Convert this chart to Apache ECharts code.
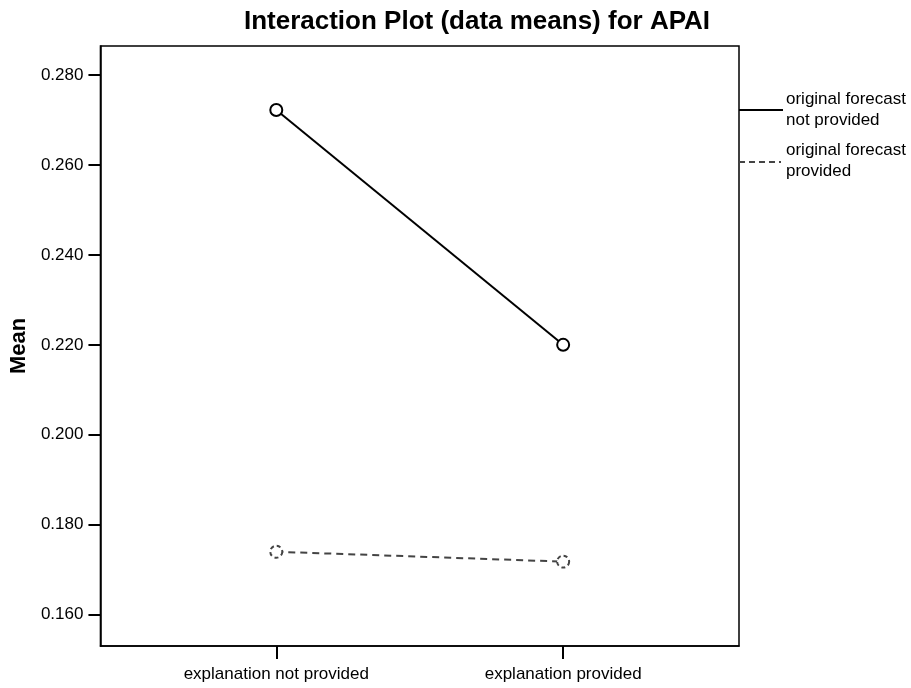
<!DOCTYPE html>
<html>
<head>
<meta charset="utf-8">
<script src="https://cdn.jsdelivr.net/npm/echarts@6/dist/echarts.min.js"></script>
<style>html,body{margin:0;padding:0;background:#fff;}#c{width:911px;height:688px;}</style>
</head>
<body>
<div id="c"></div>
<script>
const categories = ['explanation not provided', 'explanation provided'];
const categoryPositions = [1, 2];
const seriesNames = ['original forecast\nnot provided', 'original forecast\nprovided'];
const notProvidedMeans = [0.2722, 0.2200];
const providedMeans = [0.1740, 0.1718];
const yTicks = [0.160, 0.180, 0.200, 0.220, 0.240, 0.260, 0.280];

const chart = echarts.init(document.getElementById('c'), null, {renderer: 'canvas'});
const FONT = '"Liberation Sans", Arial, Helvetica, sans-serif';

function pts(vals) { return vals.map((v, i) => [categoryPositions[i], v]); }

chart.setOption({
  animation: false,
  backgroundColor: '#fff',
  title: {
    text: 'Interaction Plot (data means) for APAI',
    left: 472, top: 4, textAlign: 'center',
    textStyle: {fontFamily: FONT, fontWeight: 'bold', fontSize: 26, color: '#000'}
  },
  grid: {left: 100, top: 46, width: 639, height: 600, show: true, borderColor: '#000', borderWidth: 1.5, backgroundColor: 'transparent'},
  xAxis: {
    type: 'value', min: 0.387, max: 2.613,
    axisLine: {show: true, lineStyle: {color: '#000', width: 1.5}},
    axisTick: {show: true, inside: false, customValues: categoryPositions, length: 13, lineStyle: {color: '#000', width: 2}},
    axisLabel: {show: true, customValues: categoryPositions, margin: 20,
      formatter: v => categories[categoryPositions.indexOf(v)] || '',
      fontFamily: FONT, fontSize: 17, color: '#000'},
    splitLine: {show: false}
  },
  yAxis: {
    type: 'value', min: 0.15304, max: 0.28644,
    name: 'Mean', nameLocation: 'middle', nameGap: 63, nameRotate: 90,
    nameTextStyle: {fontFamily: FONT, fontWeight: 'bold', fontSize: 22, color: '#000'},
    axisLine: {show: true, lineStyle: {color: '#000', width: 1.5}},
    axisTick: {show: true, inside: false, customValues: yTicks, length: 12, lineStyle: {color: '#000', width: 2}},
    axisLabel: {show: true, customValues: yTicks, margin: 17,
      formatter: v => v.toFixed(3), fontFamily: FONT, fontSize: 17, color: '#000'},
    splitLine: {show: false}
  },
  series: [
    {
      name: seriesNames[0], type: 'line', data: pts(notProvidedMeans),
      symbol: 'emptyCircle', symbolSize: 12,
      lineStyle: {color: '#000', width: 2},
      itemStyle: {color: '#000', borderColor: '#000', borderWidth: 2}
    },
    {
      name: seriesNames[1], type: 'line', data: pts(providedMeans),
      symbol: 'emptyCircle', symbolSize: 12,
      lineStyle: {color: '#444', width: 2, type: [7, 5]},
      itemStyle: {color: '#444', borderColor: '#444', borderWidth: 2, borderType: [4, 3]}
    }
  ],
  graphic: [
    {type: 'line', shape: {x1: 739, y1: 110, x2: 783, y2: 110}, style: {stroke: '#000', lineWidth: 2}},
    {type: 'text', x: 786, y: 89, style: {text: seriesNames[0], font: '17px ' + FONT, fill: '#000', lineHeight: 21}},
    {type: 'line', shape: {x1: 739, y1: 162, x2: 781, y2: 162}, style: {stroke: '#444', lineWidth: 2, lineDash: [6, 4]}},
    {type: 'text', x: 786, y: 140, style: {text: seriesNames[1], font: '17px ' + FONT, fill: '#000', lineHeight: 21}}
  ]
});
</script>
</body>
</html>
